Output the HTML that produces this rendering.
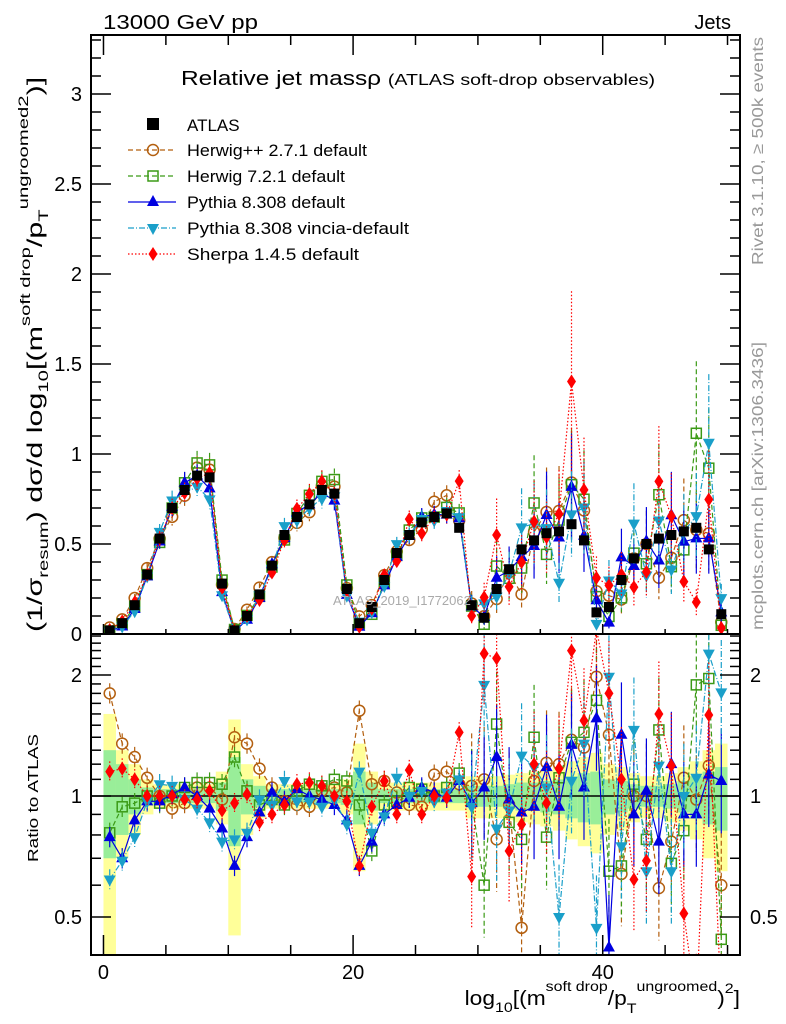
<!DOCTYPE html>
<html><head><meta charset="utf-8"><style>
html,body{margin:0;padding:0;background:#fff;}
svg{display:block;font-family:"Liberation Sans",sans-serif;}
</style></head><body>
<svg id="chart" width="786" height="1024" viewBox="0 0 786 1024" xmlns="http://www.w3.org/2000/svg">
<rect x="0" y="0" width="786" height="1024" fill="#fff"/>
<g id="bands"></g>
<g id="series"></g>
<g id="axes"></g>
<text x="103" y="29" font-size="20" textLength="155" lengthAdjust="spacingAndGlyphs">13000 GeV pp</text>
<text x="731" y="29" font-size="20" text-anchor="end">Jets</text>
<text x="181" y="85" font-size="20" textLength="474" lengthAdjust="spacingAndGlyphs">Relative jet massρ <tspan font-size="16">(ATLAS soft-drop observables)</tspan></text>
<text transform="translate(763,265) rotate(-90)" font-size="16" fill="#999" textLength="228" lengthAdjust="spacingAndGlyphs">Rivet 3.1.10, ≥ 500k events</text>
<text transform="translate(763,630) rotate(-90)" font-size="16" fill="#999" textLength="288" lengthAdjust="spacingAndGlyphs">mcplots.cern.ch [arXiv:1306.3436]</text>
<text x="333" y="605" font-size="13" fill="#aaa">ATLAS_2019_I1772062</text>
<text transform="translate(42,632) rotate(-90) scale(1.45,1)" font-size="21">(1/σ<tspan font-size="14" dy="6">resum</tspan><tspan dy="-6">) dσ/d log</tspan><tspan font-size="14" dy="6">10</tspan><tspan dy="-6">[(m</tspan><tspan font-size="14" dy="-12">soft drop</tspan><tspan dy="12">/p</tspan><tspan font-size="14" dy="6">T</tspan><tspan font-size="14" dy="-20">ungroomed</tspan><tspan font-size="14" dy="0">2</tspan><tspan dy="14">)]</tspan></text>
<text transform="translate(38,862) rotate(-90)" font-size="15" textLength="128" lengthAdjust="spacingAndGlyphs">Ratio to ATLAS</text>
<text transform="translate(740,1005) scale(1.14,1)" font-size="20" text-anchor="end">log<tspan font-size="14" dy="7">10</tspan><tspan dy="-7">[(m</tspan><tspan font-size="14" dy="-14">soft drop</tspan><tspan dy="14">/p</tspan><tspan font-size="14" dy="8">T</tspan><tspan font-size="14" dy="-22">ungroomed</tspan><tspan dy="14">)</tspan><tspan font-size="14" dy="-12">2</tspan><tspan dy="12">]</tspan></text>
<g id="legend"></g>
</svg>
<script>
const bins = Array.from({length:50},(_, i)=>i+0.5);
const atlas = [0.02,0.06,0.16,0.33,0.53,0.70,0.80,0.88,0.87,0.28,
 0.02,0.10,0.22,0.38,0.55,0.65,0.72,0.80,0.78,0.25,
 0.06,0.15,0.30,0.45,0.55,0.62,0.65,0.67,0.59,0.16,
 0.09,0.25,0.36,0.47,0.52,0.56,0.57,0.61,0.52,0.12,
 0.15,0.30,0.42,0.50,0.53,0.55,0.57,0.59,0.47,0.11];
const bandTotal = [0.6,0.3,0.2,0.1,0.07,0.07,0.07,0.07,0.07,0.15,
 0.55,0.2,0.12,0.07,0.07,0.07,0.07,0.07,0.07,0.1,
 0.35,0.15,0.08,0.08,0.08,0.08,0.08,0.08,0.08,0.12,
 0.12,0.12,0.13,0.14,0.15,0.16,0.18,0.22,0.25,0.28,
 0.2,0.18,0.14,0.12,0.12,0.14,0.18,0.22,0.3,0.35];
const bandStat = [0.3,0.2,0.1,0.05,0.04,0.04,0.04,0.04,0.04,0.08,
 0.25,0.1,0.06,0.04,0.04,0.04,0.04,0.04,0.04,0.05,
 0.15,0.08,0.04,0.04,0.04,0.04,0.04,0.04,0.04,0.06,
 0.06,0.06,0.07,0.08,0.08,0.09,0.1,0.12,0.14,0.15,
 0.1,0.09,0.07,0.06,0.06,0.07,0.09,0.12,0.15,0.18];
const herwigPPRatio = [1.80,1.35,1.25,1.11,1.0,0.93,0.96,1.05,1.05,0.98,
 1.40,1.35,1.17,1.05,0.97,0.95,0.94,1.03,1.05,1.02,
 1.63,1.07,1.09,1.02,0.95,0.94,1.13,1.15,1.07,1.06,
 1.1,0.78,0.95,0.47,1.09,1.21,1.20,1.38,1.32,1.98,
 1.42,0.64,1.0,1.0,0.59,0.77,1.11,0.98,1.19,0.6];
const herwig7Ratio = [0.81,0.94,0.96,1.0,0.96,1.0,1.05,1.08,1.08,1.07,
 1.25,1.03,0.95,0.98,0.95,1.03,1.07,1.06,1.10,1.09,
 0.95,0.73,0.95,0.97,1.05,1.04,1.0,1.05,1.14,0.97,
 0.60,1.51,0.86,0.78,1.40,0.79,1.11,1.36,1.44,1.73,
 0.65,0.67,1.07,0.78,1.46,0.68,0.82,1.89,1.96,0.44];
const pythiaRatio = [0.79,0.70,0.87,0.97,0.97,1.01,1.05,1.0,0.93,0.83,
 0.67,0.79,0.91,1.02,0.97,1.04,1.0,0.98,0.95,0.87,
 0.67,0.77,0.90,0.95,0.99,1.05,1.02,0.99,1.09,0.96,
 1.05,1.25,0.98,0.91,0.94,1.18,0.94,1.34,1.05,1.56,
 0.42,1.42,0.90,1.03,0.77,1.20,0.90,0.90,1.13,1.09];
const vinciaRatio = [0.62,0.69,0.79,0.97,1.07,1.06,0.98,0.93,0.86,0.77,
 0.78,0.81,0.98,0.95,1.09,0.97,0.97,0.94,0.98,0.85,
 1.15,0.81,0.89,1.11,1.0,1.03,0.97,1.02,1.10,0.94,
 1.89,0.83,0.92,1.26,1.18,1.05,0.50,1.09,1.35,0.47,
 1.98,0.75,1.46,0.65,1.19,0.65,1.0,1.11,2.26,1.81];
const sherpaRatio = [1.15,1.17,1.10,1.0,1.0,1.0,0.98,0.98,1.03,0.92,
 0.96,1.01,0.86,0.90,0.95,1.07,1.08,1.06,1.0,0.97,
 0.67,0.94,1.09,0.90,1.16,0.90,1.0,0.99,1.44,0.63,
 2.26,2.2,0.73,0.85,1.20,0.96,1.17,2.30,1.54,2.6,
 1.80,1.10,0.62,0.69,1.60,1.19,0.51,0.3,1.59,0.3];
const xTicks = [0,20,40];
const yTicks = [0,0.5,1,1.5,2,2.5,3];
const ratioTicks = [0.5,1,2];

const NS='http://www.w3.org/2000/svg';
const L=91,R=740,MT=35,MB=634,RT=634,RB=955;
const X=x=>L+(x+1)*(R-L)/52;
const Y=v=>MB-180*v;
const YR=r=>796-402*Math.log10(r);
function mk(tag,attrs,parent){const e=document.createElementNS(NS,tag);for(const k in attrs)e.setAttribute(k,attrs[k]);parent.appendChild(e);return e;}
const gB=document.getElementById('bands'),gS=document.getElementById('series'),gA=document.getElementById('axes'),gL=document.getElementById('legend');
const clipM=mk('clipPath',{id:'cm'},document.getElementById('chart'));mk('rect',{x:L,y:MT,width:R-L,height:MB-MT},clipM);
const clipR=mk('clipPath',{id:'cr'},document.getElementById('chart'));mk('rect',{x:L,y:RT,width:R-L,height:RB-RT},clipR);

bins.forEach((b,i)=>{
  const y1=YR(1+bandTotal[i]),y2=YR(Math.max(0.05,1-bandTotal[i]));
  const r=mk('rect',{x:X(b-0.5),y:Math.max(RT,y1),width:X(1)-X(0),height:Math.min(RB,y2)-Math.max(RT,y1),fill:'#ffff99'},gB);
  
  
});
bins.forEach((b,i)=>{
  const y1=YR(1+bandStat[i]),y2=YR(1-bandStat[i]);
  const r=mk('rect',{x:X(b-0.5),y:Math.max(RT,y1),width:X(1)-X(0),height:Math.min(RB,y2)-Math.max(RT,y1),fill:'#99ee99'},gB);
  
  
});
mk('line',{x1:L,x2:R,y1:796,y2:796,stroke:'#000','stroke-width':1.5},gB);

function marker(g,type,x,y,col){
  let e;
  if(type==='sq')e=mk('rect',{x:x-5,y:y-5,width:10,height:10,fill:'none',stroke:col,'stroke-width':1.5},g);
  else if(type==='circ')e=mk('circle',{cx:x,cy:y,r:5.5,fill:'none',stroke:col,'stroke-width':1.5},g);
  else if(type==='up')e=mk('polygon',{points:`${x},${y-7} ${x-6},${y+4} ${x+6},${y+4}`,fill:col},g);
  else if(type==='down')e=mk('polygon',{points:`${x},${y+7} ${x-6},${y-4} ${x+6},${y-4}`,fill:col},g);
  else if(type==='dia')e=mk('polygon',{points:`${x},${y-7} ${x-4.5},${y} ${x},${y+7} ${x+4.5},${y}`,fill:col},g);
  else if(type==='atlas')e=mk('rect',{x:x-5,y:y-5,width:10,height:10,fill:'#000'},g);
  return e;
}
const series=[
 {name:'herwigpp',label:'Herwig++ 2.7.1 default',ratio:herwigPPRatio,col:'#b35f0f',m:'circ',dash:'5,3'},
 {name:'herwig7',label:'Herwig 7.2.1 default',ratio:herwig7Ratio,col:'#3b9a16',m:'sq',dash:'5,3'},
 {name:'pythia',label:'Pythia 8.308 default',ratio:pythiaRatio,col:'#0000e0',m:'up',dash:''},
 {name:'vincia',label:'Pythia 8.308 vincia-default',ratio:vinciaRatio,col:'#1a9fc9',m:'down',dash:'6,2,1,2'},
 {name:'sherpa',label:'Sherpa 1.4.5 default',ratio:sherpaRatio,col:'#ff0000',m:'dia',dash:'1.5,2'}
];
const gAt=mk('g',{'clip-path':'url(#cm)'},gS);
series.forEach(s=>{
  const gm=mk('g',{'clip-path':'url(#cm)'},gS);
  
  
  const vals=atlas.map((a,i)=>a*s.ratio[i]);
  const pts=vals.map((v,i)=>X(bins[i])+','+Y(v)).join(' ');
  mk('polyline',{points:pts,fill:'none',stroke:s.col,'stroke-width':1.2,'stroke-dasharray':s.dash},gm);
  vals.forEach((v,i)=>{
    const err=v*(i>=29?0.35:0.06)+0.01;
    mk('line',{x1:X(bins[i]),x2:X(bins[i]),y1:Y(v+err),y2:Y(Math.max(0,v-err)),stroke:s.col,'stroke-width':1.2,'stroke-dasharray':s.dash},gm);
    const p=marker(gm,s.m,X(bins[i]),Y(v),s.col);
    
    
  });
  const gr=mk('g',{'clip-path':'url(#cr)'},gS);
  
  
  const rp=s.ratio.map((r,i)=>X(bins[i])+','+YR(r)).join(' ');
  mk('polyline',{points:rp,fill:'none',stroke:s.col,'stroke-width':1.2,'stroke-dasharray':s.dash},gr);
  s.ratio.forEach((r,i)=>{
    const e=(i>=29?0.35:0.06);
    mk('line',{x1:X(bins[i]),x2:X(bins[i]),y1:YR(r*(1+e)),y2:YR(r/(1+e)),stroke:s.col,'stroke-width':1.2,'stroke-dasharray':s.dash},gr);
    const p=marker(gr,s.m,X(bins[i]),YR(r),s.col);
    
    
  });
});
gS.appendChild(gAt);


atlas.forEach((a,i)=>{
  const p=marker(gAt,'atlas',X(bins[i]),Y(a),'#000');
  
  
});

mk('rect',{x:L,y:MT,width:R-L,height:MB-MT,fill:'none',stroke:'#000','stroke-width':2},gA);
mk('rect',{x:L,y:RT,width:R-L,height:RB-RT,fill:'none',stroke:'#000','stroke-width':2},gA);
for(let x=0;x<=50;x+=5){
  const big=(x%20===0)?20:10;
  mk('line',{x1:X(x),x2:X(x),y1:RB,y2:RB-big,stroke:'#000','stroke-width':1.5},gA);
  mk('line',{x1:X(x),x2:X(x),y1:MT,y2:MT+big,stroke:'#000','stroke-width':1.5},gA);
  mk('line',{x1:X(x),x2:X(x),y1:MB,y2:MB-big/2,stroke:'#000','stroke-width':1.5},gA);
}
xTicks.forEach(x=>{const t=mk('text',{x:X(x),y:979,'font-size':20,'text-anchor':'middle'},gA);t.textContent=x;
  });
for(let k=0;k<=33;k++){const v=k/10,len=(k%5===0)?20:10;
  mk('line',{x1:L,x2:L+len,y1:Y(v),y2:Y(v),stroke:'#000','stroke-width':1.5},gA);
  mk('line',{x1:R,x2:R-len,y1:Y(v),y2:Y(v),stroke:'#000','stroke-width':1.5},gA);}
yTicks.forEach(v=>{const t=mk('text',{x:82,y:Y(v)+7,'font-size':20,'text-anchor':'end'},gA);t.textContent=v;
  });
[0.4,0.5,0.6,0.7,0.8,0.9,1,1.1,1.2,1.3,1.4,1.5,1.6,1.7,1.8,1.9,2,2.1,2.2,2.3,2.4,2.5].forEach(r=>{
  const y=YR(r);if(y<RT||y>RB)return;const len=ratioTicks.includes(r)?20:10;
  mk('line',{x1:L,x2:L+len,y1:y,y2:y,stroke:'#000','stroke-width':1.5},gA);
  mk('line',{x1:R,x2:R-len,y1:y,y2:y,stroke:'#000','stroke-width':1.5},gA);});
ratioTicks.forEach(r=>{
  const t=mk('text',{x:82,y:YR(r)+7,'font-size':20,'text-anchor':'end'},gA);t.textContent=r;
  
  const t2=mk('text',{x:750,y:YR(r)+7,'font-size':20},gA);t2.textContent=r;
  });

const ly=[150,176,202,228,254];
const la=mk('rect',{x:147,y:118,width:12,height:12,fill:'#000'},gL);

const lt=mk('text',{x:187,y:131,'font-size':17},gL);lt.textContent='ATLAS';

const legendWidths=[180,158,158,222,172];
series.forEach((s,i)=>{
  const y=ly[i];
  mk('line',{x1:128,x2:176,y1:y,y2:y,stroke:s.col,'stroke-width':1.2,'stroke-dasharray':s.dash},gL);
  marker(gL,s.m,153,y,s.col);
  const t=mk('text',{x:187,y:y+6,'font-size':17,textLength:legendWidths[i],lengthAdjust:'spacingAndGlyphs'},gL);t.textContent=s.label;
  
});
</script>
</body></html>
